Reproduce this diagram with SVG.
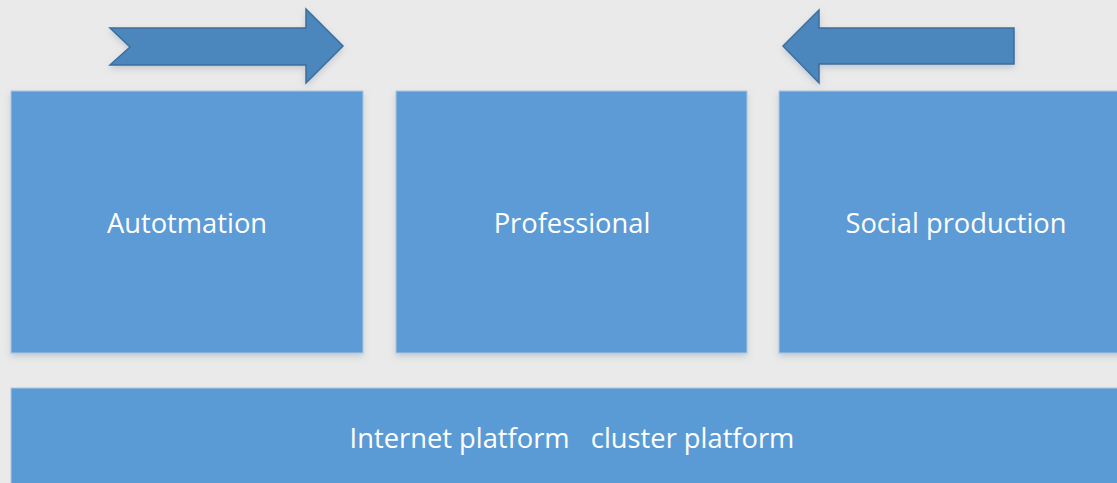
<svg xmlns="http://www.w3.org/2000/svg" width="1117" height="483" viewBox="0 0 1117 483">
<defs>
<filter id="shadow" x="-5%" y="-5%" width="110%" height="115%">
<feDropShadow dx="0" dy="3" stdDeviation="3" flood-color="#7a8fa8" flood-opacity="0.35"/>
</filter>
<style>
.box{fill:#5B9BD5;stroke:#AFC6DC;stroke-width:1}
.arrow{fill:#4C87BD;stroke:#3D6E9C;stroke-width:1.5;stroke-linejoin:miter}
.lbl{font-family:"Open Sans","Noto Sans","Liberation Sans",sans-serif;font-size:27.3px;fill:#FFFFFF;text-anchor:middle;dominant-baseline:central}
</style>
</defs>
<rect x="0" y="0" width="1117" height="483" fill="#EAEAEA"/>
<g id="connectors">
<polygon id="arrow-right" class="arrow" filter="url(#shadow)" points="110,28 306,28 306,9 343,46 306,83 306,65 110,65 130,47"/>
<polygon id="arrow-left" class="arrow" filter="url(#shadow)" points="783,46 819,10 819,28 1014,28 1014,64 819,64 819,83"/>
</g>
<g id="automation">
<rect class="box" filter="url(#shadow)" x="11" y="91" width="352" height="262"/>
<text class="lbl" x="187" y="222">Autotmation</text>
</g>
<g id="professional">
<rect class="box" filter="url(#shadow)" x="396" y="91" width="351" height="262"/>
<text class="lbl" x="572" y="222">Professional</text>
</g>
<g id="social">
<rect class="box" filter="url(#shadow)" x="779" y="91" width="345" height="262"/>
<text class="lbl" x="956" y="222">Social production</text>
</g>
<g id="platform">
<rect class="box" x="11" y="388" width="1113" height="100"/>
<text class="lbl" x="572" y="437" xml:space="preserve">Internet platform   cluster platform</text>
</g>
</svg>
